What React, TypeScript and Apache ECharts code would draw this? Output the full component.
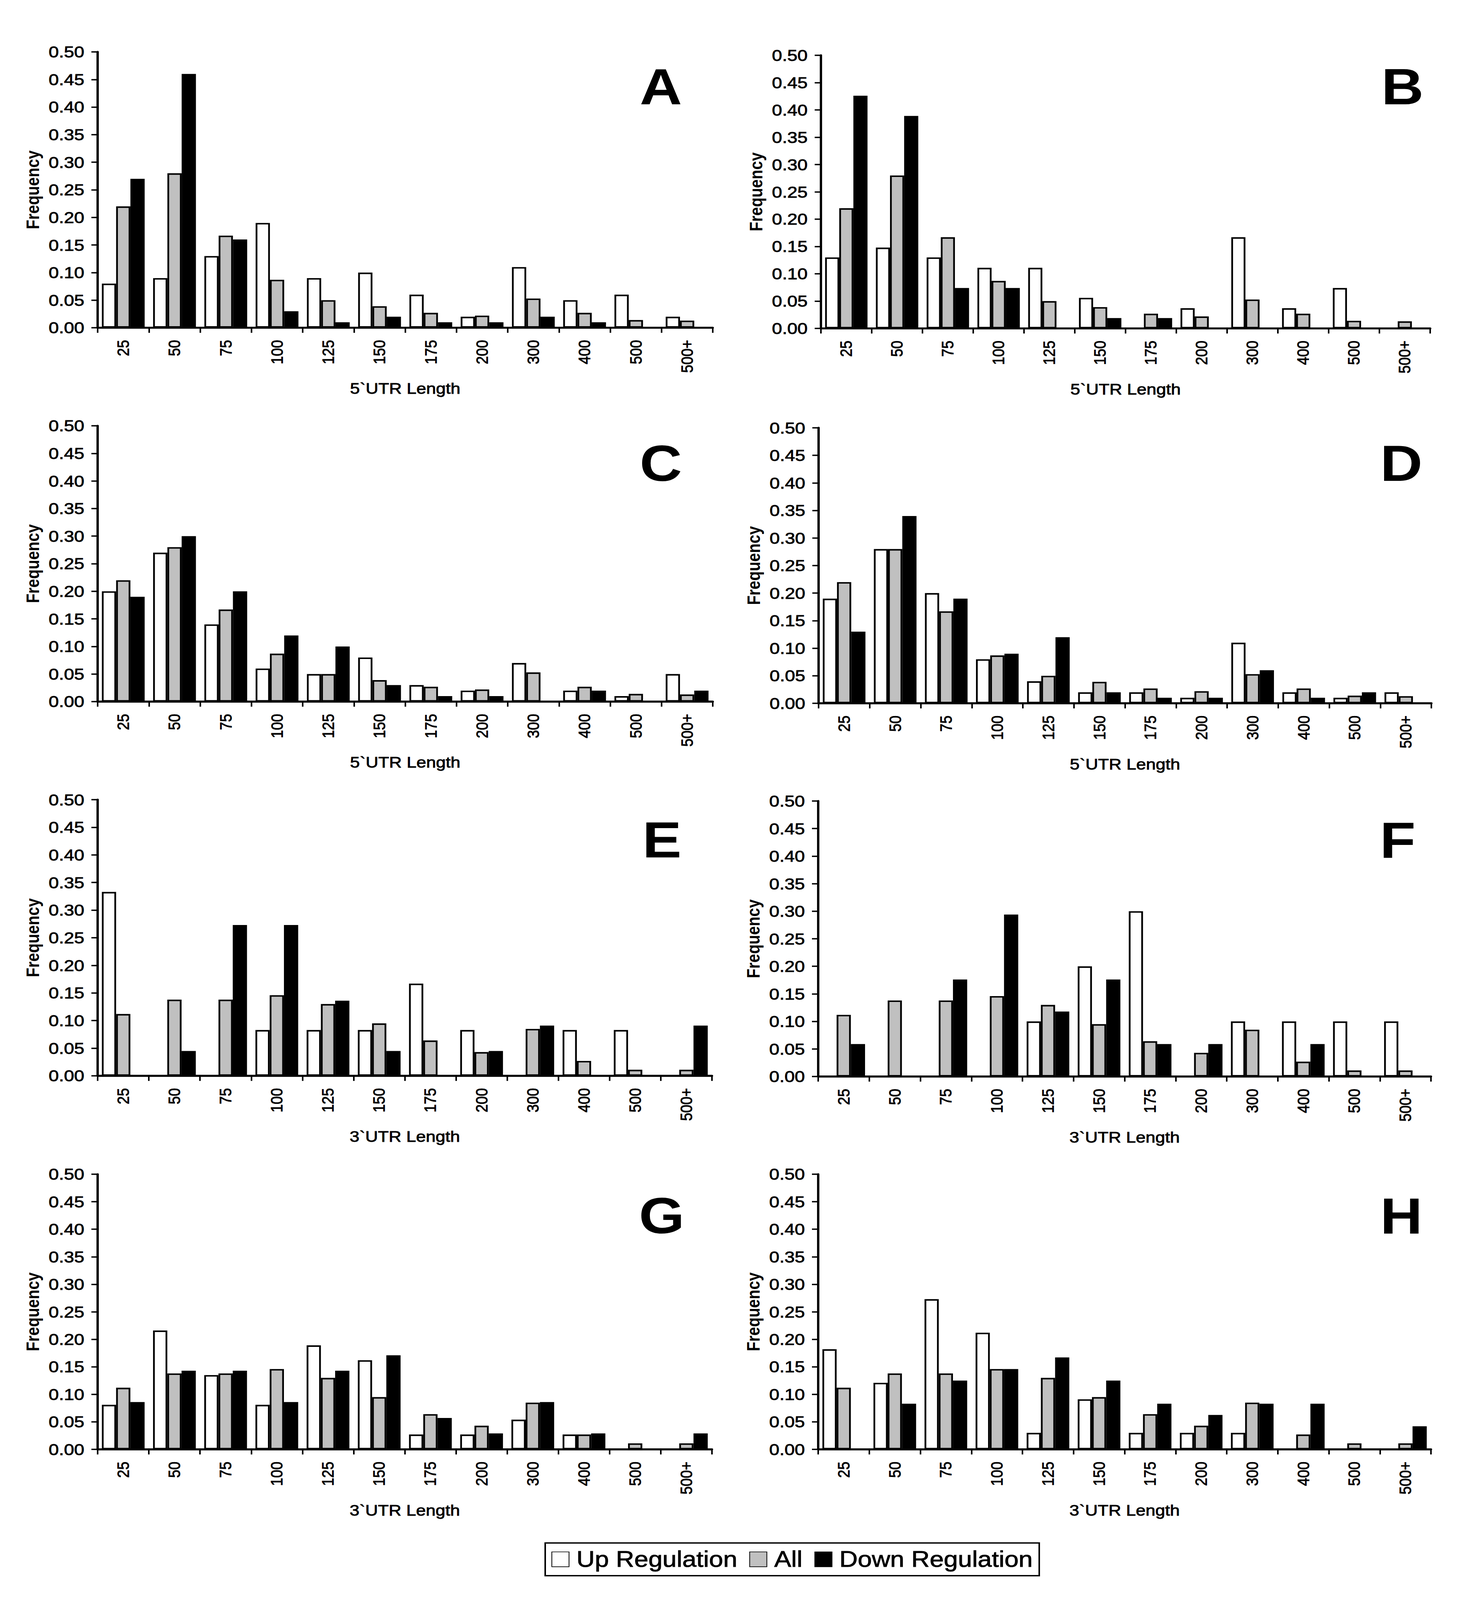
import React, { useEffect, useRef, useState } from "react";
import * as echarts from "echarts";

const categories = ["25", "50", "75", "100", "125", "150", "175", "200", "300", "400", "500", "500+"];
const seriesNames = ["Up Regulation", "All", "Down Regulation"];
const yTicks = [0, 0.05, 0.1, 0.15, 0.2, 0.25, 0.3, 0.35, 0.4, 0.45, 0.5];

const all5 = [0.22, 0.28, 0.167, 0.087, 0.05, 0.039, 0.027, 0.022, 0.053, 0.027, 0.014, 0.013];
const all3 = [0.112, 0.138, 0.138, 0.146, 0.13, 0.095, 0.064, 0.043, 0.085, 0.027, 0.011, 0.011];

const upA = [0.08, 0.09, 0.13, 0.19, 0.09, 0.1, 0.06, 0.02, 0.11, 0.05, 0.06, 0.02];
const downA = [0.27, 0.46, 0.16, 0.03, 0.01, 0.02, 0.01, 0.01, 0.02, 0.01, null, null];

const upB = [0.13, 0.148, 0.13, 0.111, 0.111, 0.056, null, 0.037, 0.167, 0.037, 0.074, null];
const downB = [0.426, 0.389, 0.074, 0.074, null, 0.019, 0.019, null, null, null, null, null];

const upC = [0.2, 0.27, 0.14, 0.06, 0.05, 0.08, 0.03, 0.02, 0.07, 0.02, 0.01, 0.05];
const downC = [0.19, 0.3, 0.2, 0.12, 0.1, 0.03, 0.01, 0.01, null, 0.02, null, 0.02];

const upD = [0.19, 0.28, 0.2, 0.08, 0.04, 0.02, 0.02, 0.01, 0.11, 0.02, 0.01, 0.02];
const downD = [0.13, 0.34, 0.19, 0.09, 0.12, 0.02, 0.01, 0.01, 0.06, 0.01, 0.02, null];

const upE = [0.333, null, null, 0.083, 0.083, 0.083, 0.167, 0.083, null, 0.083, 0.083, null];
const downE = [null, 0.045, 0.273, 0.273, 0.136, 0.045, null, 0.045, 0.091, null, null, 0.091];

const upF = [null, null, null, null, 0.1, 0.2, 0.3, null, 0.1, 0.1, 0.1, 0.1];
const downF = [0.059, null, 0.176, 0.294, 0.118, 0.176, 0.059, 0.059, null, 0.059, null, null];

const upG = [0.081, 0.216, 0.135, 0.081, 0.189, 0.162, 0.027, 0.027, 0.054, 0.027, null, null];
const downG = [0.086, 0.143, 0.143, 0.086, 0.143, 0.171, 0.057, 0.029, 0.086, 0.029, null, 0.029];

const upH = [0.182, 0.121, 0.273, 0.212, 0.03, 0.091, 0.03, 0.03, 0.03, null, null, null];
const downH = [null, 0.083, 0.125, 0.146, 0.167, 0.125, 0.083, 0.0625, 0.083, 0.083, null, 0.042];

const panelLetters = ["A", "B", "C", "D", "E", "F", "G", "H"];
const axisTitles = ["5`UTR Length", "5`UTR Length", "5`UTR Length", "5`UTR Length", "3`UTR Length", "3`UTR Length", "3`UTR Length", "3`UTR Length"];
const upData = [upA, upB, upC, upD, upE, upF, upG, upH];
const allData = [all5, all5, all5, all5, all3, all3, all3, all3];
const downData = [downA, downB, downC, downD, downE, downF, downG, downH];

const FONT = "'Liberation Sans', Arial, Helvetica, sans-serif";
const W = 3787;
const H = 4716;

const gridBoxes = [
  { left: 250, top: 153, width: 1575, height: 813 },
  { left: 2102, top: 163, width: 1560, height: 805 },
  { left: 250, top: 1255, width: 1575, height: 813 },
  { left: 2096, top: 1261, width: 1569, height: 812 },
  { left: 250, top: 2357, width: 1573, height: 814 },
  { left: 2095, top: 2361, width: 1569, height: 812 },
  { left: 250, top: 3461, width: 1573, height: 811 },
  { left: 2095, top: 3461, width: 1569, height: 811 },
];

const letterPos = [
  { x: 1638, y: 181 },
  { x: 3537, y: 181 },
  { x: 1638, y: 1290 },
  { x: 3534, y: 1290 },
  { x: 1645, y: 2400 },
  { x: 3533, y: 2402 },
  { x: 1636, y: 3508 },
  { x: 3534, y: 3509 },
];

const heavy = { textBorderColor: "#000", textBorderWidth: 1.2 };

export default function App() {
  const ref = useRef<HTMLDivElement>(null);
  const [sy] = useState(() => {
    const ih = typeof window !== "undefined" ? window.innerHeight : H;
    return Math.min(1, ih / H);
  });

  useEffect(() => {
    document.body.style.margin = "0";
    document.body.style.overflow = "hidden";
    if (!ref.current) return;
    const chart = echarts.init(ref.current, null, { renderer: "svg" });

    const grid = gridBoxes.map((g) => ({ ...g, containLabel: false }));

    const xAxis = gridBoxes.map((_, i) => ({
      type: "category",
      gridIndex: i,
      data: categories,
      name: axisTitles[i],
      nameLocation: "middle",
      nameGap: 157,
      nameTextStyle: { fontFamily: FONT, fontSize: 45, fontWeight: "normal", color: "#000", ...heavy },
      axisLine: { show: true, lineStyle: { color: "#000", width: 6 } },
      axisTick: { show: true, length: 15, interval: 0, alignWithLabel: false, lineStyle: { color: "#000", width: 4 } },
      axisLabel: { interval: 0, rotate: 90, margin: 36, fontFamily: FONT, fontSize: 43, fontWeight: "normal", color: "#000", ...heavy },
      splitLine: { show: false },
    }));

    const yAxis = gridBoxes.map((_, i) => ({
      type: "value",
      gridIndex: i,
      min: yTicks[0],
      max: yTicks[yTicks.length - 1],
      interval: 0.05,
      name: "Frequency",
      nameLocation: "middle",
      nameGap: 143,
      nameTextStyle: { fontFamily: FONT, fontSize: 46, fontWeight: "bold", color: "#000" },
      axisLine: { show: true, lineStyle: { color: "#000", width: 6 } },
      axisTick: { show: true, length: 16, lineStyle: { color: "#000", width: 4 } },
      axisLabel: {
        margin: 34,
        fontFamily: FONT,
        fontSize: 47,
        fontWeight: "normal",
        color: "#000",
        ...heavy,
        formatter: (v: number) => v.toFixed(2),
      },
      splitLine: { show: false },
    }));

    const styles = [
      { color: "#ffffff", borderColor: "#000", borderWidth: 4.5 },
      { color: "#c0c0c0", borderColor: "#000", borderWidth: 4.5 },
      { color: "#000000", borderColor: "#000", borderWidth: 4.5 },
    ];

    const series: any[] = [];
    gridBoxes.forEach((_, i) => {
      const sets = [upData[i], allData[i], downData[i]];
      sets.forEach((d, k) => {
        series.push({
          type: "bar",
          name: seriesNames[k],
          xAxisIndex: i,
          yAxisIndex: i,
          data: d,
          barGap: "0%",
          barCategoryGap: "16.5%",
          itemStyle: styles[k],
          emphasis: { disabled: true },
        });
      });
    });

    const graphic = panelLetters.map((t, i) => ({
      type: "text",
      x: letterPos[i].x,
      y: letterPos[i].y,
      style: { text: t, fontFamily: FONT, fontSize: 150, fontWeight: "bold", fill: "#000", align: "left", verticalAlign: "top" },
    }));

    chart.setOption({
      animation: false,
      backgroundColor: "#ffffff",
      grid,
      xAxis,
      yAxis,
      series,
      graphic,
      legend: {
        data: seriesNames,
        left: 1396,
        top: 4548,
        orient: "horizontal",
        itemWidth: 44,
        itemHeight: 44,
        itemGap: 30,
        icon: "rect",
        borderColor: "#000",
        borderWidth: 4,
        padding: [15, 16],
        selectedMode: false,
        textStyle: { fontFamily: FONT, fontSize: 65, color: "#000", padding: [0, 0, 0, 14], ...heavy },
      },
    });

    return () => chart.dispose();
  }, []);

  return (
    <div style={{ width: W, height: Math.floor(H * sy), overflow: "hidden", background: "#fff" }}>
      <div style={{ width: W, height: H, transform: `scale(1, ${sy})`, transformOrigin: "0 0" }}>
        <div ref={ref} style={{ width: W, height: H, background: "#fff" }} />
      </div>
    </div>
  );
}
